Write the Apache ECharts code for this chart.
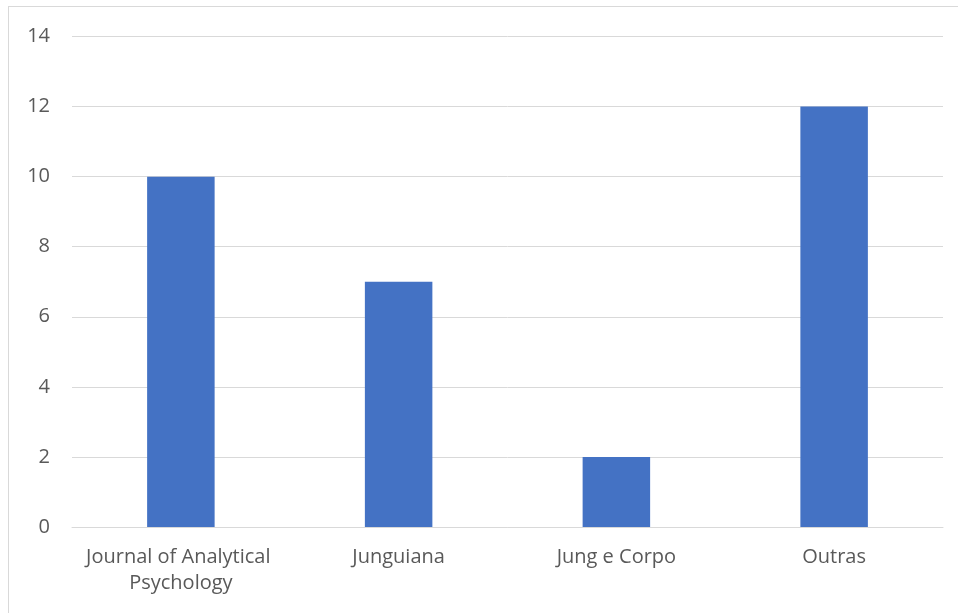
<!DOCTYPE html>
<html>
<head>
<meta charset="utf-8">
<script src="https://cdn.jsdelivr.net/npm/echarts@6/dist/echarts.min.js"></script>
<style>
html,body{margin:0;padding:0;background:#fff;}
#frame{position:absolute;left:8px;top:6px;width:1000px;height:700px;border:1px solid #d9d9d9;box-sizing:border-box;}
#chart{position:absolute;left:0;top:0;width:958px;height:613px;}
</style>
</head>
<body>
<div id="frame"></div>
<div id="chart"></div>
<script>
const categories = ["Journal of Analytical Psychology", "Junguiana", "Jung e Corpo", "Outras"];
const values = [10, 7, 2, 12];

const chart = echarts.init(document.getElementById('chart'), null, {renderer: 'canvas'});
chart.setOption({
  backgroundColor: 'transparent',
  animation: false,
  grid: {left: 72, right: 15, top: 36.5, bottom: 86, containLabel: false},
  xAxis: {
    type: 'category',
    data: categories,
    axisLine: {show: true, lineStyle: {color: '#d9d9d9', width: 1}},
    axisTick: {show: false},
    axisLabel: {
      color: '#595959', fontFamily: 'Open Sans', fontSize: 20,
      margin: 17, lineHeight: 26, width: 210, overflow: 'break', interval: 0
    }
  },
  yAxis: {
    type: 'value', min: 0, max: 14, interval: 2,
    axisLine: {show: false},
    axisTick: {show: false},
    splitLine: {lineStyle: {color: '#d9d9d9', width: 1}},
    axisLabel: {color: '#595959', fontFamily: 'Open Sans', fontSize: 20, margin: 22}
  },
  series: [{
    type: 'bar',
    data: values,
    barWidth: '31%',
    itemStyle: {color: '#4472c4'}
  }]
});
</script>
</body>
</html>
